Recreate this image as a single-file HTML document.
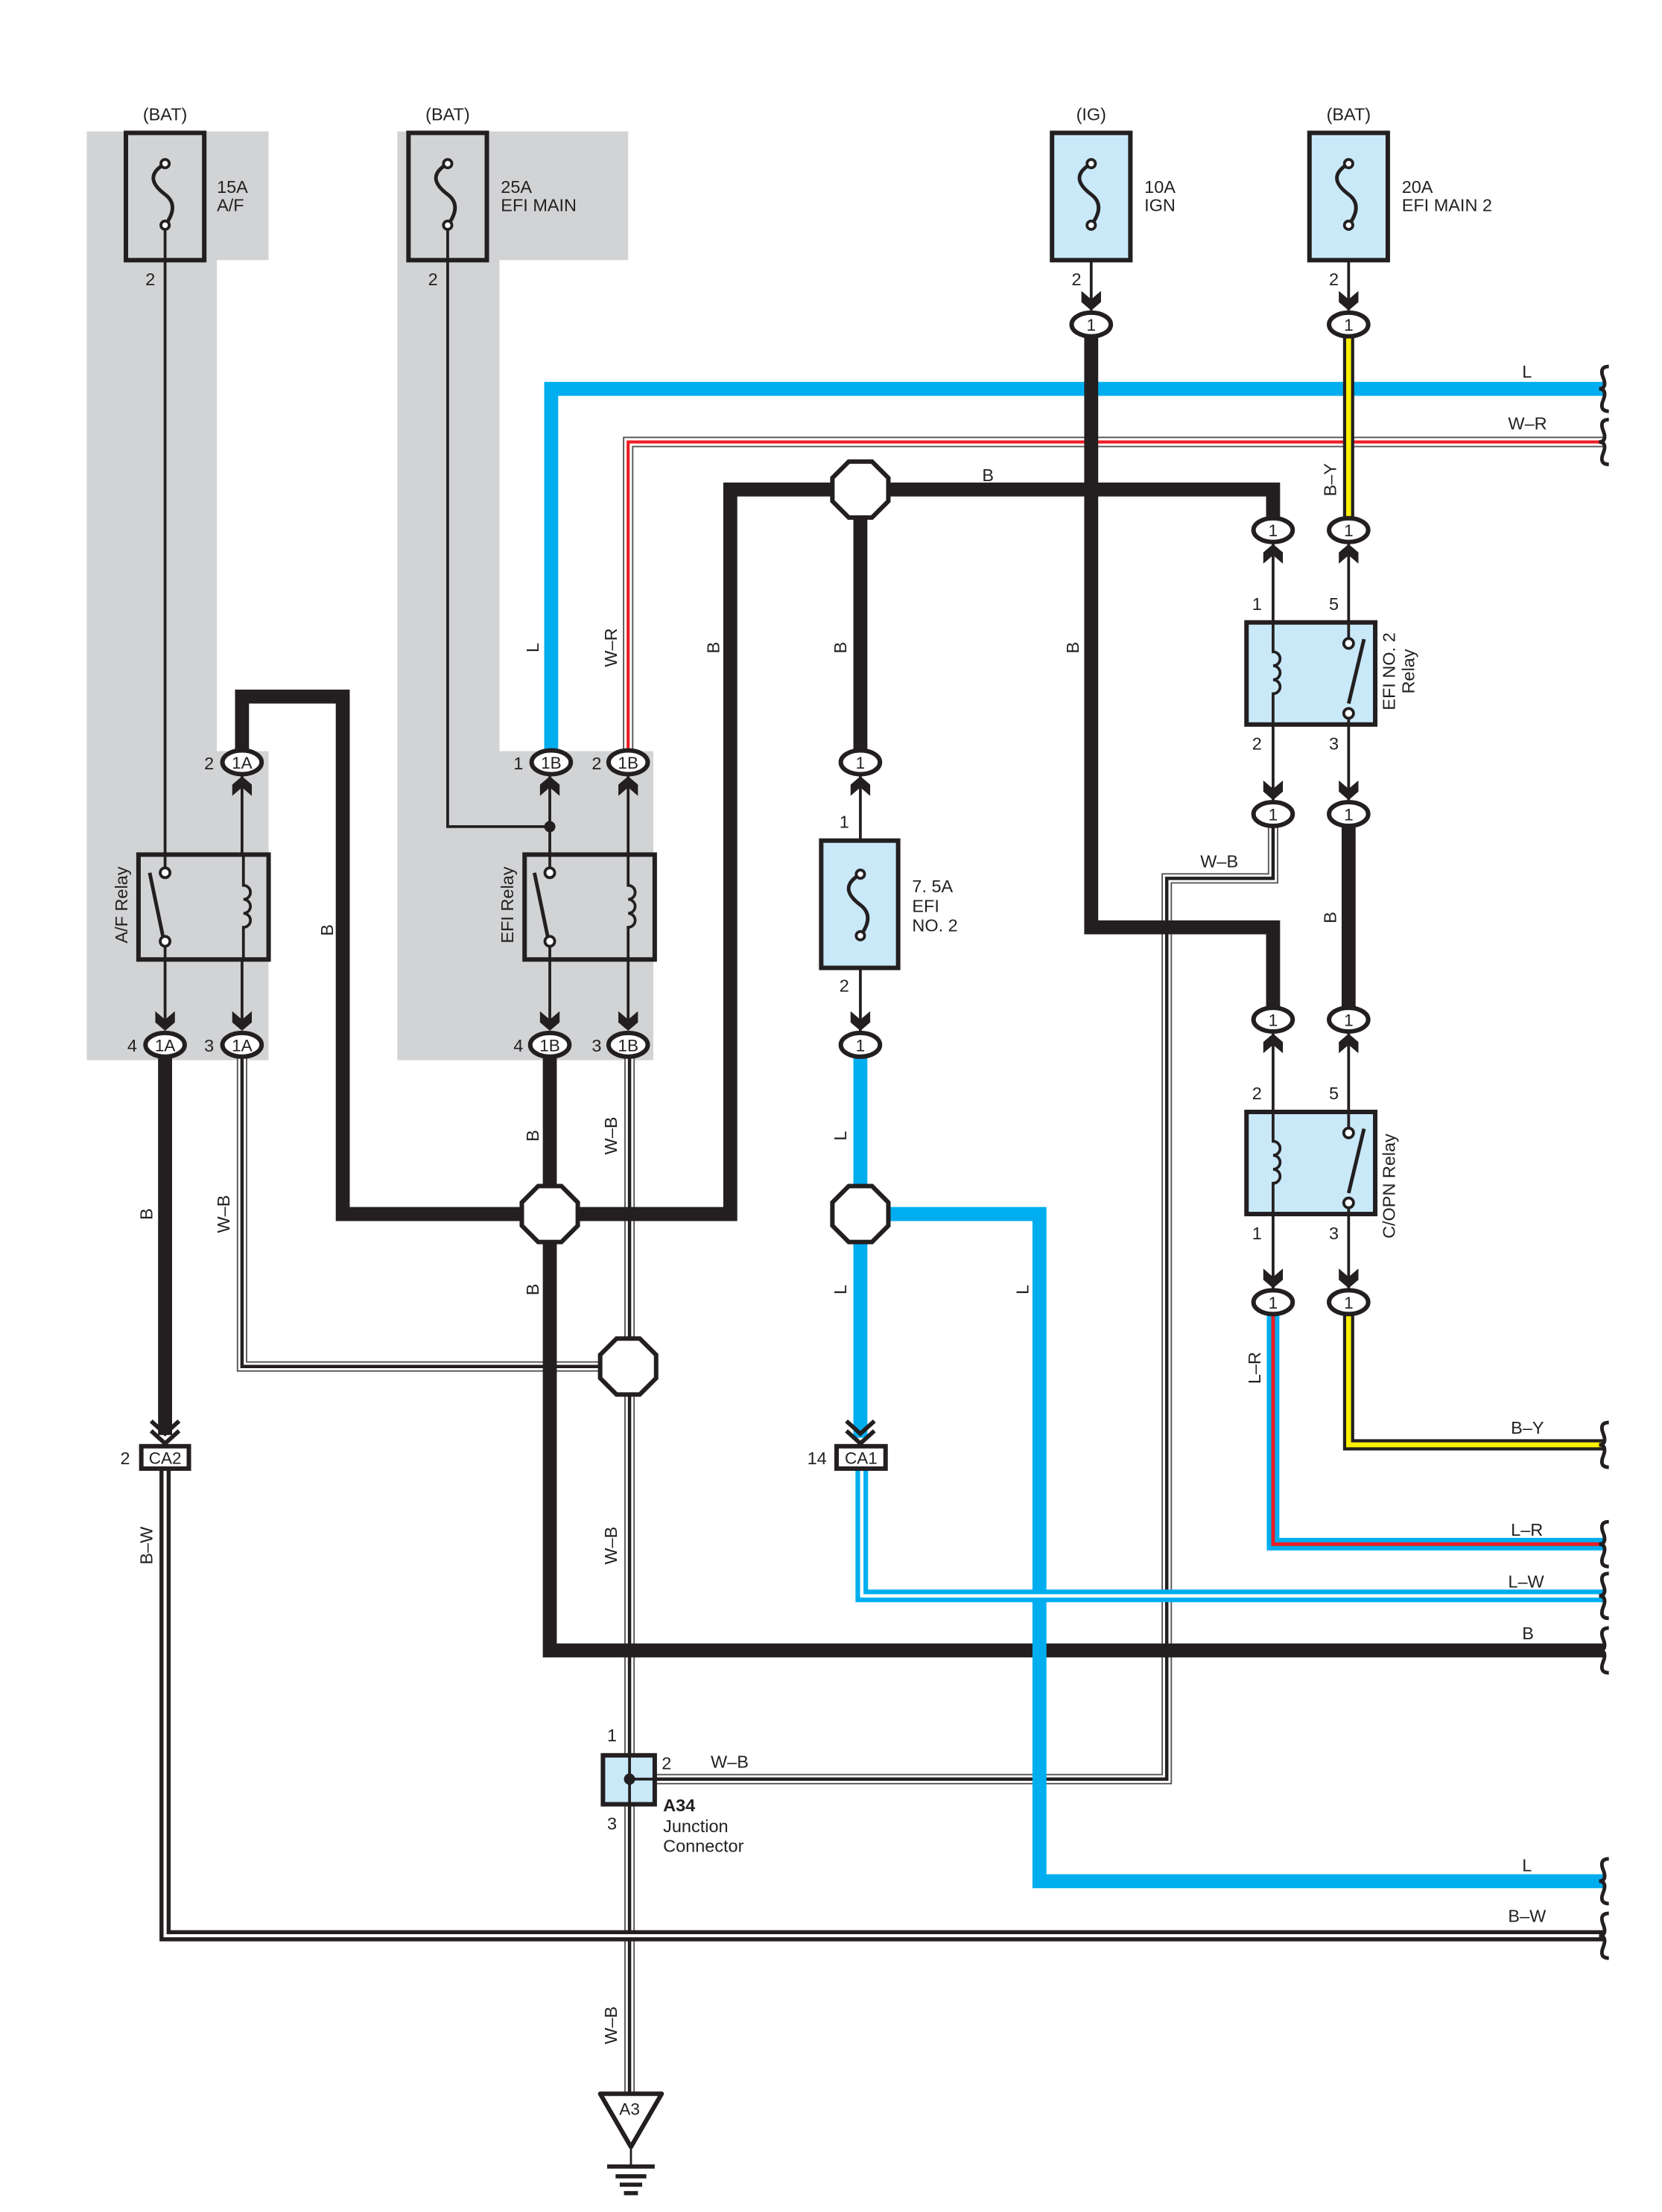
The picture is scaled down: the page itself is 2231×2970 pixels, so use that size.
<!DOCTYPE html>
<html><head><meta charset="utf-8"><style>
html,body{margin:0;padding:0;background:#fff}
svg{display:block}
text{font-family:"Liberation Sans",sans-serif;fill:#231f20}
</style></head><body>
<svg width="2231" height="2970" viewBox="0 0 1188 1581.5" xmlns="http://www.w3.org/2000/svg">
<defs>
<polygon id="oct" points="-8.3,-20 8.3,-20 20,-8.3 20,8.3 8.3,20 -8.3,20 -20,8.3 -20,-8.3" fill="#fff" stroke="#231f20" stroke-width="3.2"/>
<path id="ad" d="M-7,-12 L0,-6 L7,-12 L7,-4 L0,2 L-7,-4Z" fill="#231f20"/>
<path id="br" d="M0,-16 c-5,0 -6,3 -4,8 c2,5 1,8 -3,8 c4,0 5,3 3,8 c-2,5 -1,8 4,8" fill="none" stroke="#231f20" stroke-width="2.6"/>
<path id="wr" d="M449,545 V316 H1146"/>
<path id="by1" d="M964,232 V378"/>
<path id="bw" d="M118,1050 V1384 H1146"/>
<path id="wb1" d="M173,747 V977 H448"/>
<path id="wb2" d="M910,582 V628 H834 V1272 H450"/>
<path id="wb3" d="M450,747 V1500"/>
<path id="lw" d="M616,1050 V1141 H1146"/>
<path id="lr" d="M910,931 V1104 H1146"/>
<path id="by2" d="M964,931 V1033 H1146"/>
</defs>

<polygon points="62,94 192,94 192,186 155,186 155,537 192,537 192,758 62,758" fill="#d1d3d4"/>
<polygon points="284,94 449,94 449,186 357,186 357,537 467,537 467,758 284,758" fill="#d1d3d4"/>

<g fill="none" stroke-linejoin="miter">
<path d="M394,545 V278 H1146" stroke="#00aeef" stroke-width="10"/>
<g stroke="#555" stroke-width="7.5"><use href="#wr"/><use href="#wb1"/><use href="#wb2"/><use href="#wb3"/></g>
<g stroke="#fff" stroke-width="5.5"><use href="#wr"/><use href="#wb1"/><use href="#wb2"/><use href="#wb3"/></g>
<g stroke="#ed1c24" stroke-width="2.2"><use href="#wr"/></g>
<g stroke="#231f20" stroke-width="2.4"><use href="#wb1"/><use href="#wb2"/><use href="#wb3"/></g>

<path d="M780,232 V663 H910 V728" stroke="#231f20" stroke-width="10"/>
<g stroke="#231f20" stroke-width="8"><use href="#by1"/><use href="#by2"/></g>
<g stroke="#fff200" stroke-width="3.5"><use href="#by1"/><use href="#by2"/></g>
<path d="M173,545 V498 H245 V868 H522 V350 H910 V378" stroke="#231f20" stroke-width="10"/>
<path d="M615,350 V545" stroke="#231f20" stroke-width="10"/>
<path d="M393,747 V1180 H1146" stroke="#231f20" stroke-width="10"/>
<path d="M118,747 V1026" stroke="#231f20" stroke-width="10"/>
<g stroke="#231f20" stroke-width="8"><use href="#bw"/></g>
<g stroke="#fff" stroke-width="2.2"><use href="#bw"/></g>
<path d="M615,747 V1028" stroke="#00aeef" stroke-width="10"/>
<path d="M615,868 H743 V1345 H1146" stroke="#00aeef" stroke-width="10"/>
<g stroke="#00aeef" stroke-width="9"><use href="#lw"/><use href="#lr"/></g>
<g stroke="#fff" stroke-width="2.4"><use href="#lw"/></g>
<g stroke="#ed1c24" stroke-width="2.6"><use href="#lr"/></g>
<path d="M964,582 V729" stroke="#231f20" stroke-width="10"/>
</g>

<g stroke="#231f20" stroke-width="2" fill="none">
<path d="M118,160 V620"/>
<path d="M118,672 V735"/>
<path d="M173,555 V735"/>
<path d="M320,160 V591 H393"/>
<path d="M393,555 V620"/>
<path d="M393,672 V735"/>
<path d="M449,555 V735"/>
<path d="M780,160 V222"/>
<path d="M964,160 V222"/>
<path d="M615,555 V740"/>
<path d="M910,388 V572"/>
<path d="M964,388 V572"/>
<path d="M910,738 V921"/>
<path d="M964,738 V921"/>
</g>
<circle cx="393" cy="591" r="4" fill="#231f20"/>

<g stroke="#231f20" stroke-width="3.2">
<rect x="90" y="95" width="56" height="91" fill="none"/>
<rect x="292" y="95" width="56" height="91" fill="none"/>
<rect x="752" y="95" width="56" height="91" fill="#c9e9f9"/>
<rect x="936" y="95" width="56" height="91" fill="#c9e9f9"/>
<rect x="587" y="601" width="55" height="91" fill="#c9e9f9"/>
</g>
<g fill="none" stroke="#231f20" stroke-width="2.6">
<path d="M118,117 c-14,8 -8,16 0,22 c8,6 6,14 0,22"/>
<path d="M320,117 c-14,8 -8,16 0,22 c8,6 6,14 0,22"/>
<path d="M780,117 c-14,8 -8,16 0,22 c8,6 6,14 0,22"/>
<path d="M964,117 c-14,8 -8,16 0,22 c8,6 6,14 0,22"/>
<path d="M615,625 c-14,8 -8,16 0,22 c8,6 6,14 0,22"/>
</g>
<g fill="#fff" stroke="#231f20" stroke-width="2">
<circle cx="118" cy="117" r="3"/><circle cx="118" cy="161" r="3"/>
<circle cx="320" cy="117" r="3"/><circle cx="320" cy="161" r="3"/>
<circle cx="780" cy="117" r="3"/><circle cx="780" cy="161" r="3"/>
<circle cx="964" cy="117" r="3"/><circle cx="964" cy="161" r="3"/>
<circle cx="615" cy="625" r="3"/><circle cx="615" cy="669" r="3"/>
</g>

<g stroke="#231f20" stroke-width="3.2">
<rect x="99" y="611" width="93" height="75" fill="#d1d3d4"/>
<rect x="375" y="611" width="93" height="75" fill="#d1d3d4"/>
<rect x="891" y="445" width="92" height="73" fill="#c9e9f9"/>
<rect x="891" y="795" width="92" height="73" fill="#c9e9f9"/>
</g>
<g fill="none" stroke="#231f20" stroke-width="2">
<path d="M118,611 V620 M118,676 V686"/>
<path d="M393,611 V620 M393,676 V686"/>
<path d="M964,445 V456 M964,508 V518"/>
<path d="M964,795 V806 M964,858 V868"/>
<path d="M174,611 V633 a5,5 0 1 1 0,10 a5,5 0 1 1 0,10 a5,5 0 1 1 0,10 V686"/>
<path d="M449,611 V633 a5,5 0 1 1 0,10 a5,5 0 1 1 0,10 a5,5 0 1 1 0,10 V686"/>
<path d="M910,445 V466 a5,5 0 1 1 0,10 a5,5 0 1 1 0,10 a5,5 0 1 1 0,10 V518"/>
<path d="M910,795 V816 a5,5 0 1 1 0,10 a5,5 0 1 1 0,10 a5,5 0 1 1 0,10 V868"/>
</g>
<g stroke="#231f20" stroke-width="2.6">
<line x1="107" y1="624" x2="117" y2="672"/>
<line x1="382" y1="624" x2="392" y2="672"/>
<line x1="975" y1="457" x2="964" y2="503"/>
<line x1="975" y1="807" x2="964" y2="853"/>
</g>
<g fill="#fff" stroke="#231f20" stroke-width="2">
<circle cx="118" cy="624" r="3.5"/><circle cx="118" cy="673" r="3.5"/>
<circle cx="393" cy="624" r="3.5"/><circle cx="393" cy="673" r="3.5"/>
<circle cx="964" cy="460" r="3.5"/><circle cx="964" cy="510" r="3.5"/>
<circle cx="964" cy="810" r="3.5"/><circle cx="964" cy="860" r="3.5"/>
</g>

<use href="#ad" transform="translate(118,735)"/>
<use href="#ad" transform="translate(173,735)"/>
<use href="#ad" transform="translate(393,735)"/>
<use href="#ad" transform="translate(449,735)"/>
<use href="#ad" transform="translate(173,557) rotate(180)"/>
<use href="#ad" transform="translate(393,557) rotate(180)"/>
<use href="#ad" transform="translate(449,557) rotate(180)"/>
<use href="#ad" transform="translate(780,220)"/>
<use href="#ad" transform="translate(964,220)"/>
<use href="#ad" transform="translate(910,391) rotate(180)"/>
<use href="#ad" transform="translate(964,391) rotate(180)"/>
<use href="#ad" transform="translate(910,570)"/>
<use href="#ad" transform="translate(964,570)"/>
<use href="#ad" transform="translate(910,741) rotate(180)"/>
<use href="#ad" transform="translate(964,741) rotate(180)"/>
<use href="#ad" transform="translate(910,919)"/>
<use href="#ad" transform="translate(964,919)"/>
<use href="#ad" transform="translate(615,557) rotate(180)"/>
<use href="#ad" transform="translate(615,735)"/>
<path d="M108,1016 L118,1025 L128,1016 M108,1023 L118,1032 L128,1023" fill="none" stroke="#231f20" stroke-width="3"/>
<path d="M605,1016 L615,1025 L625,1016 M605,1023 L615,1032 L625,1023" fill="none" stroke="#231f20" stroke-width="3"/>

<g fill="#fff" stroke="#231f20" stroke-width="3.2">
<ellipse cx="173" cy="545" rx="14" ry="8.5"/>
<ellipse cx="118" cy="747" rx="14" ry="8.5"/>
<ellipse cx="173" cy="747" rx="14" ry="8.5"/>
<ellipse cx="394" cy="545" rx="14" ry="8.5"/>
<ellipse cx="449" cy="545" rx="14" ry="8.5"/>
<ellipse cx="393" cy="747" rx="14" ry="8.5"/>
<ellipse cx="449" cy="747" rx="14" ry="8.5"/>
<ellipse cx="780" cy="232" rx="14" ry="8.5"/>
<ellipse cx="964" cy="232" rx="14" ry="8.5"/>
<ellipse cx="910" cy="379" rx="14" ry="8.5"/>
<ellipse cx="964" cy="379" rx="14" ry="8.5"/>
<ellipse cx="910" cy="582" rx="14" ry="8.5"/>
<ellipse cx="964" cy="582" rx="14" ry="8.5"/>
<ellipse cx="910" cy="729" rx="14" ry="8.5"/>
<ellipse cx="964" cy="729" rx="14" ry="8.5"/>
<ellipse cx="910" cy="931" rx="14" ry="8.5"/>
<ellipse cx="964" cy="931" rx="14" ry="8.5"/>
<ellipse cx="615" cy="545" rx="14" ry="8.5"/>
<ellipse cx="615" cy="747" rx="14" ry="8.5"/>
<rect x="101" y="1034" width="34" height="16"/>
<rect x="598" y="1034" width="35" height="16"/>
</g>
<g font-size="12" text-anchor="middle">
<text x="173" y="549.5">1A</text><text x="118" y="751.5">1A</text><text x="173" y="751.5">1A</text>
<text x="394" y="549.5">1B</text><text x="449" y="549.5">1B</text><text x="393" y="751.5">1B</text><text x="449" y="751.5">1B</text>
<text x="780" y="236.5">1</text><text x="964" y="236.5">1</text>
<text x="910" y="383.5">1</text><text x="964" y="383.5">1</text>
<text x="910" y="586.5">1</text><text x="964" y="586.5">1</text>
<text x="910" y="733.5">1</text><text x="964" y="733.5">1</text>
<text x="910" y="935.5">1</text><text x="964" y="935.5">1</text>
<text x="615" y="549.5">1</text><text x="615" y="751.5">1</text>
<text x="118" y="1046.5">CA2</text><text x="615.5" y="1046.5">CA1</text>
</g>

<use href="#oct" transform="translate(393,868)"/>
<use href="#oct" transform="translate(615,350)"/>
<use href="#oct" transform="translate(615,868)"/>
<use href="#oct" transform="translate(449,977)"/>

<rect x="431" y="1255" width="37" height="35" fill="#c9e9f9" stroke="#231f20" stroke-width="3.2"/>
<path d="M450,1255 V1290 M450,1272 H468" stroke="#231f20" stroke-width="2"/>
<circle cx="450" cy="1272" r="4" fill="#231f20"/>

<polygon points="429,1497 473,1497 451,1535" fill="#fff" stroke="#231f20" stroke-width="3.2" stroke-linejoin="round"/>
<text x="450" y="1512" font-size="12" text-anchor="middle">A3</text>
<g stroke="#231f20" stroke-width="3">
<line x1="451" y1="1535" x2="451" y2="1549" stroke-width="1.5"/>
<line x1="434" y1="1549" x2="468" y2="1549"/>
<line x1="440" y1="1556" x2="462" y2="1556"/>
<line x1="443" y1="1562" x2="459" y2="1562"/>
<line x1="446" y1="1568" x2="456" y2="1568"/>
</g>

<use href="#br" transform="translate(1150,278)"/>
<use href="#br" transform="translate(1150,316)"/>
<use href="#br" transform="translate(1150,1033)"/>
<use href="#br" transform="translate(1150,1104)"/>
<use href="#br" transform="translate(1150,1141)"/>
<use href="#br" transform="translate(1150,1180)"/>
<use href="#br" transform="translate(1150,1345)"/>
<use href="#br" transform="translate(1150,1384)"/>

<g font-size="12.5">
<text x="118" y="86" text-anchor="middle">(BAT)</text>
<text x="320" y="86" text-anchor="middle">(BAT)</text>
<text x="780" y="86" text-anchor="middle">(IG)</text>
<text x="964" y="86" text-anchor="middle">(BAT)</text>
<text x="155" y="138">15A</text><text x="155" y="151">A/F</text>
<text x="358" y="138">25A</text><text x="358" y="151">EFI MAIN</text>
<text x="818" y="138">10A</text><text x="818" y="151">IGN</text>
<text x="1002" y="138">20A</text><text x="1002" y="151">EFI MAIN 2</text>
<text x="652" y="638">7. 5A</text><text x="652" y="652">EFI</text><text x="652" y="666">NO. 2</text>
<text x="104" y="204">2</text><text x="306" y="204">2</text><text x="766" y="204">2</text><text x="950" y="204">2</text>
<text x="146" y="550">2</text><text x="91" y="752">4</text><text x="146" y="752">3</text>
<text x="367" y="550">1</text><text x="423" y="550">2</text><text x="367" y="752">4</text><text x="423" y="752">3</text>
<text x="600" y="592">1</text><text x="600" y="709">2</text>
<text x="895" y="436">1</text><text x="950" y="436">5</text><text x="895" y="536">2</text><text x="950" y="536">3</text>
<text x="895" y="786">2</text><text x="950" y="786">5</text><text x="895" y="886">1</text><text x="950" y="886">3</text>
<text x="86" y="1047">2</text><text x="577" y="1047">14</text>
<text x="1088" y="270">L</text>
<text x="1078" y="307">W–R</text>
<text x="702" y="344">B</text>
<text x="858" y="620">W–B</text>
<text x="1080" y="1025">B–Y</text>
<text x="1080" y="1098">L–R</text>
<text x="1078" y="1135">L–W</text>
<text x="1088" y="1172">B</text>
<text x="1088" y="1338">L</text>
<text x="1078" y="1374">B–W</text>
<text x="508" y="1264">W–B</text>
<text x="434" y="1245">1</text><text x="473" y="1265">2</text><text x="434" y="1308">3</text>
<text x="474" y="1295" font-weight="bold">A34</text>
<text x="474" y="1310">Junction</text>
<text x="474" y="1324">Connector</text>
</g>
<g font-size="12.5" text-anchor="middle">
<text transform="translate(385,463) rotate(-90)">L</text>
<text transform="translate(441,463) rotate(-90)">W–R</text>
<text transform="translate(514,463) rotate(-90)">B</text>
<text transform="translate(605,463) rotate(-90)">B</text>
<text transform="translate(771,463) rotate(-90)">B</text>
<text transform="translate(955,343) rotate(-90)">B–Y</text>
<text transform="translate(238,665) rotate(-90)">B</text>
<text transform="translate(109,868) rotate(-90)">B</text>
<text transform="translate(164,868) rotate(-90)">W–B</text>
<text transform="translate(385,812) rotate(-90)">B</text>
<text transform="translate(441,812) rotate(-90)">W–B</text>
<text transform="translate(385,922) rotate(-90)">B</text>
<text transform="translate(605,812) rotate(-90)">L</text>
<text transform="translate(605,922) rotate(-90)">L</text>
<text transform="translate(735,922) rotate(-90)">L</text>
<text transform="translate(955,656) rotate(-90)">B</text>
<text transform="translate(901,978) rotate(-90)">L–R</text>
<text transform="translate(109,1105) rotate(-90)">B–W</text>
<text transform="translate(441,1105) rotate(-90)">W–B</text>
<text transform="translate(441,1448) rotate(-90)">W–B</text>
<text transform="translate(91,647) rotate(-90)">A/F Relay</text>
<text transform="translate(367,647) rotate(-90)">EFI Relay</text>
<text transform="translate(997,848) rotate(-90)">C/OPN Relay</text>
<text transform="translate(997,480) rotate(-90)">EFI NO. 2</text>
<text transform="translate(1011,480) rotate(-90)">Relay</text>
</g>
</svg>
</body></html>
